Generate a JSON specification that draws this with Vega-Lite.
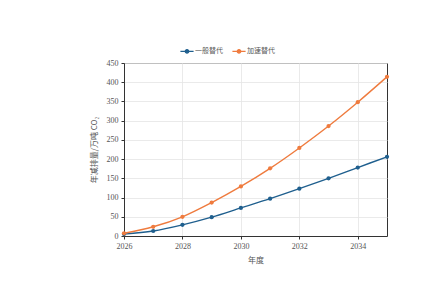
{
  "$schema": "https://vega.github.io/schema/vega-lite/v6.json",
  "autosize": "none",
  "width": 263,
  "height": 173,
  "padding": {"left": 124, "top": 63, "right": 42, "bottom": 52},
  "background": "#ffffff",
  "config": {
    "view": {"stroke": "#333333", "strokeWidth": 1},
    "axis": {
      "labelFont": "Liberation Serif",
      "labelFontSize": 8,
      "labelColor": "#555555",
      "labelFlush": false,
      "titleFont": "Noto Sans CJK SC",
      "titleFontSize": 8,
      "titleFontWeight": "normal",
      "titleColor": "#555555",
      "domainColor": "#333333",
      "tickColor": "#333333",
      "tickSize": 3,
      "gridColor": "#e4e4e4",
      "gridWidth": 0.8
    },
    "legend": {
      "labelFont": "Noto Sans CJK SC",
      "labelFontSize": 7,
      "labelColor": "#555555"
    }
  },
  "data": {
    "values": [
      {"year": 2026, "value": 5, "series": "一般替代"},
      {"year": 2027, "value": 13, "series": "一般替代"},
      {"year": 2028, "value": 29, "series": "一般替代"},
      {"year": 2029, "value": 49, "series": "一般替代"},
      {"year": 2030, "value": 73, "series": "一般替代"},
      {"year": 2031, "value": 97, "series": "一般替代"},
      {"year": 2032, "value": 123, "series": "一般替代"},
      {"year": 2033, "value": 150, "series": "一般替代"},
      {"year": 2034, "value": 178, "series": "一般替代"},
      {"year": 2035, "value": 206, "series": "一般替代"},
      {"year": 2026, "value": 7, "series": "加速替代"},
      {"year": 2027, "value": 24, "series": "加速替代"},
      {"year": 2028, "value": 50, "series": "加速替代"},
      {"year": 2029, "value": 87, "series": "加速替代"},
      {"year": 2030, "value": 129, "series": "加速替代"},
      {"year": 2031, "value": 176, "series": "加速替代"},
      {"year": 2032, "value": 229, "series": "加速替代"},
      {"year": 2033, "value": 286, "series": "加速替代"},
      {"year": 2034, "value": 348, "series": "加速替代"},
      {"year": 2035, "value": 414, "series": "加速替代"}
    ]
  },
  "encoding": {
    "x": {
      "field": "year",
      "type": "quantitative",
      "title": "年度",
      "scale": {"domain": [2026, 2035], "nice": false, "zero": false},
      "axis": {"values": [2026, 2028, 2030, 2032, 2034], "format": "d", "titlePadding": 6, "labelPadding": 3}
    },
    "y": {
      "field": "value",
      "type": "quantitative",
      "title": "年减排量/万吨 CO₂",
      "scale": {"domain": [0, 450], "nice": false},
      "axis": {"values": [0, 50, 100, 150, 200, 250, 300, 350, 400, 450], "titlePadding": 8, "labelPadding": 3}
    },
    "color": {
      "field": "series",
      "type": "nominal",
      "title": null,
      "scale": {"domain": ["一般替代", "加速替代"], "range": ["#1f5f8e", "#ef7b3e"]},
      "legend": {
        "orient": "none",
        "direction": "horizontal",
        "legendX": 58,
        "legendY": -17,
        "symbolType": "M-1.7,0H1.7M-0.45,0A0.45,0.45,0,1,1,0.45,0A0.45,0.45,0,1,1,-0.45,0",
        "symbolSize": 60,
        "symbolStrokeWidth": 1.3,
        "columnPadding": 6,
        "labelOffset": 3
      }
    }
  },
  "layer": [
    {"mark": {"type": "line", "strokeWidth": 1.4, "interpolate": "monotone"}},
    {"mark": {"type": "point", "filled": true, "size": 18, "opacity": 1}}
  ]
}
